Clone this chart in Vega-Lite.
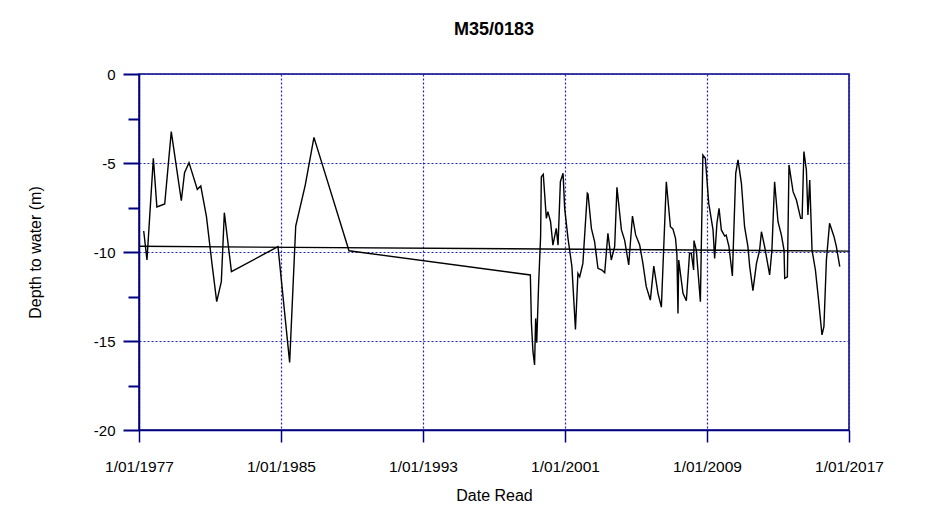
{
  "$schema": "https://vega.github.io/schema/vega-lite/v6.json",
  "width": 710,
  "height": 356,
  "autosize": {"type": "none"},
  "padding": {"left": 139, "top": 74, "right": 94, "bottom": 86},
  "background": "white",
  "config": {
    "font": "Liberation Sans",
    "view": {"stroke": "#000080", "strokeWidth": 1.5}
  },
  "title": {
    "text": "M35/0183",
    "fontSize": 18,
    "fontWeight": "bold",
    "font": "Liberation Sans",
    "color": "black",
    "offset": 28,
    "anchor": "middle"
  },
  "datasets": {
    "obs": [
      {"date": "1977-04-08", "depth": -8.82},
      {"date": "1977-06-14", "depth": -10.45},
      {"date": "1977-10-23", "depth": -4.74},
      {"date": "1978-01-04", "depth": -7.47},
      {"date": "1978-06-14", "depth": -7.30},
      {"date": "1978-10-27", "depth": -3.24},
      {"date": "1979-05-22", "depth": -7.12},
      {"date": "1979-07-27", "depth": -5.54},
      {"date": "1979-10-27", "depth": -4.98},
      {"date": "1980-04-15", "depth": -6.48},
      {"date": "1980-06-25", "depth": -6.29},
      {"date": "1980-10-20", "depth": -8.01},
      {"date": "1981-02-10", "depth": -10.64},
      {"date": "1981-05-19", "depth": -12.79},
      {"date": "1981-08-22", "depth": -11.67},
      {"date": "1981-10-23", "depth": -7.79},
      {"date": "1982-03-18", "depth": -11.1},
      {"date": "1984-10-31", "depth": -9.70},
      {"date": "1985-06-28", "depth": -16.2},
      {"date": "1985-10-31", "depth": -8.54},
      {"date": "1986-05-15", "depth": -6.24},
      {"date": "1986-11-10", "depth": -3.56},
      {"date": "1988-10-31", "depth": -9.93},
      {"date": "1999-01-19", "depth": -11.29},
      {"date": "1999-02-10", "depth": -14.0},
      {"date": "1999-03-14", "depth": -15.6},
      {"date": "1999-04-16", "depth": -16.35},
      {"date": "1999-05-08", "depth": -13.73},
      {"date": "1999-05-30", "depth": -15.1},
      {"date": "1999-07-09", "depth": -11.76},
      {"date": "1999-08-18", "depth": -9.14},
      {"date": "1999-09-02", "depth": -5.77},
      {"date": "1999-10-12", "depth": -5.64},
      {"date": "1999-12-14", "depth": -8.11},
      {"date": "2000-01-15", "depth": -7.73},
      {"date": "2000-03-10", "depth": -8.3},
      {"date": "2000-04-27", "depth": -9.61},
      {"date": "2000-07-05", "depth": -8.67},
      {"date": "2000-08-11", "depth": -9.61},
      {"date": "2000-09-28", "depth": -6.05},
      {"date": "2000-11-22", "depth": -5.58},
      {"date": "2000-12-25", "depth": -7.55},
      {"date": "2001-03-04", "depth": -9.23},
      {"date": "2001-05-23", "depth": -10.82},
      {"date": "2001-08-04", "depth": -14.35},
      {"date": "2001-09-24", "depth": -11.2},
      {"date": "2001-10-31", "depth": -11.39},
      {"date": "2002-01-04", "depth": -10.64},
      {"date": "2002-04-05", "depth": -6.70},
      {"date": "2002-04-20", "depth": -6.75},
      {"date": "2002-06-28", "depth": -8.67},
      {"date": "2002-09-02", "depth": -9.42},
      {"date": "2002-11-10", "depth": -10.92},
      {"date": "2003-01-30", "depth": -11.01},
      {"date": "2003-03-29", "depth": -11.16},
      {"date": "2003-06-03", "depth": -8.95},
      {"date": "2003-08-11", "depth": -10.45},
      {"date": "2003-10-20", "depth": -9.70},
      {"date": "2003-12-06", "depth": -6.37},
      {"date": "2004-03-07", "depth": -8.76},
      {"date": "2004-05-12", "depth": -9.33},
      {"date": "2004-08-04", "depth": -10.73},
      {"date": "2004-10-20", "depth": -7.98},
      {"date": "2004-12-25", "depth": -9.04},
      {"date": "2005-03-18", "depth": -9.61},
      {"date": "2005-05-23", "depth": -10.64},
      {"date": "2005-07-31", "depth": -11.95},
      {"date": "2005-10-23", "depth": -12.7},
      {"date": "2006-01-02", "depth": -10.79},
      {"date": "2006-03-29", "depth": -12.32},
      {"date": "2006-06-07", "depth": -13.1},
      {"date": "2006-09-17", "depth": -6.05},
      {"date": "2006-12-10", "depth": -8.58},
      {"date": "2007-01-30", "depth": -8.7},
      {"date": "2007-03-25", "depth": -9.23},
      {"date": "2007-04-23", "depth": -10.17},
      {"date": "2007-05-15", "depth": -13.45},
      {"date": "2007-05-30", "depth": -10.45},
      {"date": "2007-08-26", "depth": -12.32},
      {"date": "2007-11-03", "depth": -12.74},
      {"date": "2008-01-08", "depth": -10.07},
      {"date": "2008-02-13", "depth": -10.07},
      {"date": "2008-04-01", "depth": -11.01},
      {"date": "2008-04-08", "depth": -9.36},
      {"date": "2008-05-26", "depth": -9.89},
      {"date": "2008-08-18", "depth": -12.79},
      {"date": "2008-10-08", "depth": -4.55},
      {"date": "2008-11-28", "depth": -4.74},
      {"date": "2009-02-06", "depth": -7.27},
      {"date": "2009-05-05", "depth": -8.76},
      {"date": "2009-06-07", "depth": -10.36},
      {"date": "2009-07-24", "depth": -8.39},
      {"date": "2009-09-06", "depth": -7.55},
      {"date": "2009-10-23", "depth": -8.76},
      {"date": "2010-01-01", "depth": -9.10},
      {"date": "2010-01-30", "depth": -9.05},
      {"date": "2010-03-29", "depth": -9.70},
      {"date": "2010-06-07", "depth": -11.35},
      {"date": "2010-08-15", "depth": -5.58},
      {"date": "2010-10-01", "depth": -4.83},
      {"date": "2010-12-10", "depth": -6.14},
      {"date": "2011-02-13", "depth": -8.58},
      {"date": "2011-04-23", "depth": -9.70},
      {"date": "2011-05-30", "depth": -10.82},
      {"date": "2011-08-04", "depth": -12.17},
      {"date": "2011-10-16", "depth": -10.64},
      {"date": "2011-12-20", "depth": -9.89},
      {"date": "2012-01-26", "depth": -8.86},
      {"date": "2012-04-01", "depth": -9.70},
      {"date": "2012-07-13", "depth": -11.29},
      {"date": "2012-08-29", "depth": -9.89},
      {"date": "2012-10-23", "depth": -6.05},
      {"date": "2013-01-01", "depth": -8.30},
      {"date": "2013-03-11", "depth": -9.04},
      {"date": "2013-05-05", "depth": -9.89},
      {"date": "2013-05-19", "depth": -11.48},
      {"date": "2013-07-13", "depth": -11.39},
      {"date": "2013-08-15", "depth": -5.11},
      {"date": "2013-11-07", "depth": -6.61},
      {"date": "2014-01-15", "depth": -7.08},
      {"date": "2014-04-12", "depth": -8.11},
      {"date": "2014-05-12", "depth": -8.11},
      {"date": "2014-06-18", "depth": -4.36},
      {"date": "2014-08-08", "depth": -5.39},
      {"date": "2014-09-09", "depth": -7.92},
      {"date": "2014-10-16", "depth": -5.96},
      {"date": "2014-12-02", "depth": -9.89},
      {"date": "2015-02-10", "depth": -11.01},
      {"date": "2015-04-16", "depth": -12.70},
      {"date": "2015-06-25", "depth": -14.66},
      {"date": "2015-08-04", "depth": -14.19},
      {"date": "2015-09-24", "depth": -10.45},
      {"date": "2015-11-28", "depth": -8.39},
      {"date": "2016-02-28", "depth": -9.14},
      {"date": "2016-04-16", "depth": -9.70},
      {"date": "2016-06-25", "depth": -10.82}
    ],
    "trend": [
      {"date": "1977-01-01", "depth": -9.68},
      {"date": "2017-01-01", "depth": -9.95}
    ]
  },
  "encoding": {
    "x": {
      "field": "date",
      "type": "temporal",
      "title": "Date Read",
      "scale": {"domain": [{"year": 1977, "month": 1, "date": 1}, {"year": 2017, "month": 1, "date": 1}]},
      "axis": {
        "values": [
          {"year": 1977, "month": 1, "date": 1},
          {"year": 1985, "month": 1, "date": 1},
          {"year": 1993, "month": 1, "date": 1},
          {"year": 2001, "month": 1, "date": 1},
          {"year": 2009, "month": 1, "date": 1},
          {"year": 2017, "month": 1, "date": 1}
        ],
        "format": "%-d/%m/%Y",
        "labelFont": "Liberation Sans",
        "labelFontSize": 15.5,
        "labelColor": "black",
        "labelFlush": false,
        "labelPadding": 17,
        "tickSize": 12,
        "tickWidth": 1.5,
        "tickColor": "#000080",
        "domainColor": "#000080",
        "domainWidth": 1.5,
        "grid": true,
        "gridColor": "#2424b4",
        "gridDash": [2, 2],
        "gridWidth": 1.2,
        "gridOpacity": 1,
        "titleFont": "Liberation Sans",
        "titleFontSize": 16,
        "titleFontWeight": "normal",
        "titleColor": "black",
        "titleY": 57
      }
    },
    "y": {
      "field": "depth",
      "type": "quantitative",
      "title": "Depth to water (m)",
      "scale": {"domain": [-20, 0], "nice": false},
      "axis": {
        "values": [-20, -17.5, -15, -12.5, -10, -7.5, -5, -2.5, 0],
        "labelExpr": "datum.value % 5 === 0 ? toString(datum.value) : ''",
        "labelFont": "Liberation Sans",
        "labelFontSize": 15,
        "labelColor": "black",
        "labelPadding": 8,
        "tickSize": {"condition": {"test": "datum.value % 5 === 0", "value": 16}, "value": 11},
        "tickWidth": 2,
        "tickColor": "#000080",
        "domainColor": "#000080",
        "domainWidth": 1.5,
        "grid": true,
        "gridColor": "#2424b4",
        "gridDash": [2, 2],
        "gridWidth": 1.2,
        "gridOpacity": {"condition": {"test": "datum.value % 5 === 0", "value": 1}, "value": 0},
        "titleFont": "Liberation Sans",
        "titleFontSize": 16,
        "titleFontWeight": "normal",
        "titleColor": "black",
        "titleX": -96,
        "titleY": 178
      }
    }
  },
  "layer": [
    {"data": {"name": "obs"}, "mark": {"type": "line", "color": "black", "strokeWidth": 1.4}},
    {"data": {"name": "trend"}, "mark": {"type": "line", "color": "black", "strokeWidth": 1.4}}
  ]
}
